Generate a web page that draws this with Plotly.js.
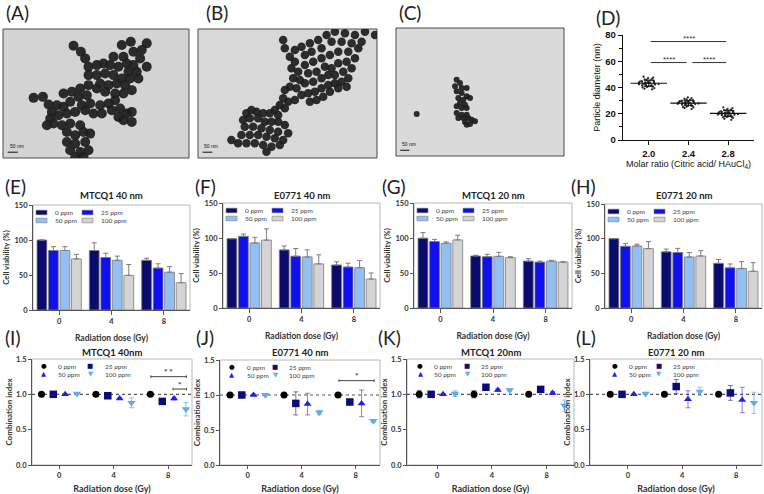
<!DOCTYPE html>
<html><head><meta charset="utf-8">
<script src="https://cdn.plot.ly/plotly-3.0.1.min.js"></script>
<style>html,body{margin:0;padding:0;background:#fff}#chart{width:764px;height:494px}</style>
</head><body><div id="chart"></div>
<script>
// ================= DATA =================
const doseLabels = ['0', '4', '8'];          // bar panels (category)
const doseValues = [0, 4, 8];                // CI panels (numeric)
const concLabels = ['0 ppm', '25 ppm', '50 ppm', '100 ppm'];

// (D) particle diameters (nm) per molar ratio
const molarRatios = [2.0, 2.4, 2.8];
const molarRatioLabels = ['2.0', '2.4', '2.8'];
const diam_2_0 = [38.5,39.1,39.6,40.0,40.3,40.7,41.0,41.3,41.5,41.8,42.0,42.2,42.4,42.6,42.8,43.0,43.1,43.3,43.4,43.6,43.8,43.9,44.1,44.3,44.5,44.7,44.9,45.2,45.5,45.8,46.2,46.6,47.1,47.6,48.2,41.1,42.5,43.2,43.7,44.4];
const diam_2_4 = [23.6,24.4,25.0,25.5,25.9,26.3,26.6,26.9,27.1,27.4,27.6,27.8,28.0,28.1,28.3,28.5,28.6,28.8,29.0,29.2,29.4,29.6,29.9,30.2,30.5,30.9,31.3,31.8,32.4,26.8,27.7,28.2,28.9,29.5,30.0,24.8,28.4,27.3];
const diam_2_8 = [15.4,16.2,16.8,17.3,17.7,18.1,18.4,18.7,19.0,19.2,19.4,19.6,19.8,20.0,20.1,20.3,20.5,20.7,20.9,21.1,21.3,21.5,21.8,22.1,22.4,22.8,23.2,23.7,24.3,24.9,18.9,19.7,20.4,21.0,21.7,17.5,22.6,20.2,19.1,20.8];

// (E) MTCQ1 40 nm  cell viability (%) rows: 0,25,50,100 ppm ; cols: 0,4,8 Gy
const viabE = [[100,85,71],[85,75,60],[85,71,54],[73,49.5,39]];
const viabE_err = [[null,11,3],[5.5,6,6],[5.5,6,8],[6.5,15.5,13]];
// (F) E0771 40 nm
const viabF = [[99,83,61.4],[102.4,74,58.6],[93,73,57.6],[97,63,41.4]];
const viabF_err = [[null,5.6,4.6],[3.3,11,5.4],[8,10,10.4],[16,13,8.6]];
// (G) MTCQ1 20 nm
const viabG = [[99.7,74.3,67],[95,73.3,65.6],[92.5,73.8,67],[97.3,71.9,65.6]];
const viabG_err = [[8,1,3.4],[3,3.4,1.4],[1.9,5.7,1],[6.7,1.4,0.5]];
// (H) E0771 20 nm
const viabH = [[100,81,64.4],[89,80,58],[89.4,73.6,57],[85.6,75,52.9]];
const viabH_err = [[null,4,5.6],[4,6,5.5],[2.6,6.4,9.8],[10.1,7.7,12.5]];

// (I)-(L) combination index rows: 0,25,50,100 ppm ; cols: 0,4,8 Gy
const ciI = [[1.0,1.0,1.0],[1.0,0.98,0.90],[1.0,0.94,0.94],[1.01,0.88,0.79]];
const ciI_err = [[0,0,0],[0.01,0.01,0.01],[0.01,0.01,0.02],[0.01,0.07,0.095]];
const ciJ = [[1.0,1.0,1.0],[1.0,0.88,0.90],[1.0,0.87,0.88],[1.0,0.75,0.63]];
const ciJ_err = [[0,0,0],[0.01,0.165,0.01],[0.01,0.155,0.19],[0.01,0.03,0.02]];
const ciK = [[1.0,1.0,1.0],[1.0,1.10,1.07],[1.0,1.06,1.02],[1.01,1.06,0.84]];
const ciK_err = [[0.05,0.05,0],[0.02,0.02,0.02],[0.01,0.02,0.02],[0.04,0.02,0.08]];
const ciL = [[1.0,1.0,1.0],[1.0,1.11,1.02],[1.0,0.93,0.92],[1.01,1.04,0.88]];
const ciL_err = [[0,0,0],[0.01,0.10,0.105],[0.01,0.12,0.18],[0.01,0.06,0.15]];

// (A)-(C) TEM particle centres (image pixel coordinates)
const temA_x = [220,242,365,392,440,255,340,370,400,425,420,440,265,290,310,330,355,380,400,410,385,265,290,315,340,365,390,415,300,325,350,375,395,370,345,190,215,240,265,290,315,235,260,210,245,270,300,325,345,360,335,380,395,370,395,355,100,128,145,170,190,155,150,175,200,225,255,280,305,140,160,185,210,240,200,225,250,270,200,225,255,210,240,265,225,250];
const temA_y = [62,80,60,50,55,100,95,95,80,75,100,125,125,120,115,120,125,115,120,140,140,150,150,145,150,160,160,160,175,180,175,180,195,205,205,205,200,190,180,190,200,215,210,230,240,235,240,235,225,250,255,265,260,285,290,275,218,215,238,240,245,260,280,270,265,260,255,265,265,300,295,300,295,300,320,330,320,325,350,355,350,375,380,375,395,395];
const temB_x = [265,270,285,300,320,345,370,395,420,450,480,510,540,500,470,440,410,380,350,330,300,290,310,330,355,380,405,430,460,490,480,455,430,410,390,365,340,315,295,285,305,330,355,380,400,420,445,470,460,440,420,400,380,360,340,320,345,365,385,405,430,455,270,265,280,300,255,240,270,250,225,205,185,170,155,145,165,190,210,230,250,270,150,175,200,225,250,280,140,165,190,215,240,265,110,130,155,180,205,230,255,215];
const temB_y = [45,70,95,75,65,55,45,30,20,25,30,20,30,50,55,50,50,70,80,90,110,130,140,120,110,100,90,80,80,70,100,110,115,130,125,140,145,165,160,185,190,175,170,160,150,150,140,130,160,170,175,180,190,200,205,210,230,225,215,200,190,185,195,220,230,225,240,255,250,270,265,265,260,255,265,285,280,280,290,290,290,300,305,305,310,315,320,325,330,330,330,335,340,345,345,355,355,355,360,365,360,380];
const temC_x = [80,200,210,195,215,230,200,215,230,240,205,220,210,225,200,215,230,200,215,230,205,220,235,245,225,240,255,230];
const temC_y = [288,185,195,205,210,210,220,225,235,240,240,245,255,260,265,270,270,285,290,290,300,300,300,305,312,318,310,320];

// ================= STYLE / LAYOUT =================
const W = 764, H = 494;
const px = x => x / W, py = y => 1 - y / H;
const dom = (a, b) => [a / W, b / W];
const domY = (t, b) => [1 - b / H, 1 - t / H];
const FONT = 'Lato, "Open Sans", sans-serif';
const FONT_D = '"Liberation Sans", Arial, sans-serif';
const INK = '#333';
const AXC = '#555';
const barColors = ['#0b0b6e', '#1010ee', '#92c0f2', '#d4d4d4'];
const ciColors = ['#000000', '#0b0b7a', '#1f1ff0', '#5eacf2'];
const ciErrColors = ['rgba(0,0,0,0.6)', 'rgba(11,11,122,0.55)', 'rgba(31,31,240,0.55)', 'rgba(94,172,242,0.7)'];
const ciSymbols = ['circle', 'square', 'triangle-up', 'triangle-down'];
const ciSizes = [7, 7.5, 7, 7.5];
const ciGlyphs = ['\u25CF', '\u25A0', '\u25B2', '\u25BC'];

const traces = [], shapes = [], annotations = [];
const layout = {
  width: W, height: H, margin: {l: 0, r: 0, t: 0, b: 0},
  paper_bgcolor: '#fff', plot_bgcolor: 'rgba(0,0,0,0)',
  showlegend: false, hovermode: false,
  barmode: 'group', bargap: 0.12, bargroupgap: 0.15,
  scattermode: 'group', scattergap: 0.13,
  font: {family: FONT, color: INK}
};

function note(text, x, y, size, opts) {
  annotations.push(Object.assign({text: text, x: px(x), y: py(y), xref: 'paper', yref: 'paper',
    showarrow: false, xanchor: 'left', yanchor: 'middle', font: {family: FONT, size: size, color: '#222'}}, opts || {}));
}

// ---- panel letters ----
[['(A)',4,13],['(B)',204,13],['(C)',397,12],['(D)',594,17],
 ['(E)',3,186],['(F)',193,186],['(G)',380,186],['(H)',569,186],
 ['(I)',3,337],['(J)',194,337],['(K)',376,337],['(L)',574,337]].forEach(l => note(l[0], l[1], l[2], 19));

// ---- TEM images (A-C) ----
const tem = [
  {id: '', xd: [3,189], yd: [29,158], xr: [8,567], yr: [398,12], xs: temA_x, ys: temA_y, size: 10, bg: '#d3d3d3'},
  {id: '2', xd: [198,377], yd: [29,158], xr: [10,546], yr: [399,12], xs: temB_x, ys: temB_y, size: 8.5, bg: '#d8d8d8'},
  {id: '3', xd: [396,564], yd: [28,156], xr: [18,522], yr: [414,30], xs: temC_x, ys: temC_y, size: 6, bg: '#dadada'}
];
tem.forEach(t => {
  layout['xaxis' + t.id] = {domain: dom(t.xd[0], t.xd[1]), range: t.xr, visible: false, anchor: 'y' + t.id};
  layout['yaxis' + t.id] = {domain: domY(t.yd[0], t.yd[1]), range: t.yr, visible: false, anchor: 'x' + t.id};
  shapes.push({type: 'rect', xref: 'x' + t.id + ' domain', yref: 'y' + t.id + ' domain', x0: 0, x1: 1, y0: 0, y1: 1,
    fillcolor: t.bg, line: {color: '#4a4a4a', width: 1}, layer: 'below'});
  traces.push({type: 'scatter', mode: 'markers', x: t.xs, y: t.ys, xaxis: 'x' + t.id, yaxis: 'y' + t.id,
    marker: {size: t.size, color: '#1e1e1e', opacity: 0.93, line: {width: 0}}, hoverinfo: 'skip'});
  shapes.push({type: 'line', xref: 'x' + t.id + ' domain', yref: 'y' + t.id + ' domain', x0: 0.025, x1: 0.08, y0: 0.045, y1: 0.045,
    line: {color: '#111', width: 1}});
  annotations.push({text: '50 nm', xref: 'x' + t.id + ' domain', yref: 'y' + t.id + ' domain', x: 0.025, y: 0.055,
    xanchor: 'left', yanchor: 'bottom', showarrow: false, font: {size: 5, color: '#111', family: FONT_D}});
});

// ---- (D) particle diameter ----
const diamGroups = [diam_2_0, diam_2_4, diam_2_8];
layout.xaxis4 = {domain: dom(623, 754), range: [1.74, 3.06], anchor: 'y4', tickvals: molarRatios, ticktext: molarRatioLabels,
  showline: true, linecolor: '#111', linewidth: 1.3, ticks: 'outside', ticklen: 4, tickcolor: '#111', showgrid: false, zeroline: false,
  tickfont: {family: FONT_D, size: 9.5, color: '#111', weight: 'bold'},
  title: {text: 'Molar ratio (Citric acid/ HAuCl<sub>4</sub>)', font: {family: FONT_D, size: 9, color: '#111'}, standoff: 3}};
layout.yaxis4 = {domain: domY(35, 140), range: [0, 80], anchor: 'x4', tickvals: [0, 20, 40, 60, 80],
  showline: true, linecolor: '#111', linewidth: 1.3, ticks: 'outside', ticklen: 4, tickcolor: '#111', showgrid: false, zeroline: false,
  minor: {dtick: 10, ticks: 'outside', ticklen: 2.5, tickcolor: '#111', showgrid: false},
  tickfont: {family: FONT_D, size: 9.5, color: '#111', weight: 'bold'},
  title: {text: 'Particle diameter (nm)', font: {family: FONT_D, size: 9, color: '#111'}, standoff: 3}};
diamGroups.forEach((g, i) => {
  traces.push({type: 'box', y: g, x0: molarRatios[i], xaxis: 'x4', yaxis: 'y4', boxpoints: 'all', jitter: 1, pointpos: 0,
    width: 0.24, line: {width: 0, color: 'rgba(0,0,0,0)'}, fillcolor: 'rgba(0,0,0,0)',
    marker: {size: 2.3, color: '#2a2a2a'}, hoverinfo: 'skip'});
});
const mean = a => a.reduce((s, v) => s + v, 0) / a.length;
const sd = a => { const m = mean(a); return Math.sqrt(a.reduce((s, v) => s + (v - m) * (v - m), 0) / (a.length - 1)); };
traces.push({type: 'scatter', mode: 'markers', x: molarRatios, y: diamGroups.map(mean), xaxis: 'x4', yaxis: 'y4',
  marker: {symbol: 'line-ew', size: 26, line: {width: 1.2, color: '#111'}},
  error_y: {type: 'data', array: diamGroups.map(sd), color: '#111', thickness: 1, width: 5}, hoverinfo: 'skip'});
[[2.02, 2.78, 75], [2.02, 2.38, 59], [2.44, 2.78, 59]].forEach(b =>
  shapes.push({type: 'line', xref: 'x4', yref: 'y4', x0: b[0], x1: b[1], y0: b[2], y1: b[2], line: {color: '#333', width: 1}}));
[[2.40, 77.5], [2.20, 61.5], [2.61, 61.5]].forEach(s =>
  annotations.push({text: '****', xref: 'x4', yref: 'y4', x: s[0], y: s[1], showarrow: false, yanchor: 'middle',
    font: {family: FONT_D, size: 8, color: '#333'}}));

// ---- helpers for styled axes ----
function frame(id) {
  shapes.push({type: 'rect', xref: 'x' + id + ' domain', yref: 'y' + id + ' domain', x0: 0, x1: 1, y0: 0, y1: 1,
    line: {color: '#b8b8b8', width: 1}, layer: 'below'});
}
const tickFont = {family: FONT, size: 7.5, color: '#333', weight: 'bold'};
function baseAxis(extra) {
  return Object.assign({showline: true, linecolor: AXC, linewidth: 1, ticks: 'outside', ticklen: 3, tickcolor: AXC,
    showgrid: false, zeroline: false, tickfont: tickFont}, extra);
}

// ---- (E)-(H) bar panels ----
const barPanels = [
  {id: 5, title: 'MTCQ1 40 nm', xd: [33,190], yd: [205,310], m: viabE, e: viabE_err},
  {id: 6, title: 'E0771 40 nm', xd: [223,380], yd: [203,308], m: viabF, e: viabF_err},
  {id: 7, title: 'MTCQ1 20 nm', xd: [414,572], yd: [203,308], m: viabG, e: viabG_err},
  {id: 8, title: 'E0771 20 nm', xd: [605,762], yd: [204,308], m: viabH, e: viabH_err}
];
barPanels.forEach(p => {
  layout['xaxis' + p.id] = baseAxis({domain: dom(p.xd[0], p.xd[1]), anchor: 'y' + p.id, type: 'category', ticklen: 4,
    title: {text: 'Radiation dose (Gy)', font: {family: FONT, size: 8.5, color: '#333', weight: 'bold'}, standoff: 10}});
  layout['yaxis' + p.id] = baseAxis({domain: domY(p.yd[0], p.yd[1]), anchor: 'x' + p.id, range: [0, 150], tickvals: [0, 50, 100, 150],
    title: {text: 'Cell viability (%)', font: {family: FONT, size: 7.8, color: '#333', weight: 'bold'}, standoff: 3}});
  frame(p.id);
  p.m.forEach((vals, i) => {
    traces.push({type: 'bar', name: concLabels[i], x: doseLabels, y: vals, xaxis: 'x' + p.id, yaxis: 'y' + p.id,
      marker: {color: barColors[i], line: {color: '#7c7c7c', width: 0.8}},
      error_y: {type: 'data', symmetric: false, array: p.e[i], arrayminus: p.e[i].map(() => 0),
        color: '#7c7c7c', thickness: 1, width: 2.5}, hoverinfo: 'skip'});
  });
  note(p.title, (p.xd[0] + p.xd[1]) / 2, 195, 9.5, {xanchor: 'center', font: {family: FONT, size: 9.5, color: '#222', weight: 'bold'}});
  // legend (2 x 2)
  const L = p.xd[0], T = p.yd[0];
  const rows = [T + 7.5, T + 15.5];
  const cols = [[L + 3, L + 14, L + 20], [L + 49, L + 60, L + 66]];
  concLabels.forEach((c, i) => {
    const r = rows[Math.floor(i / 2)], col = cols[i % 2];
    shapes.push({type: 'rect', xref: 'paper', yref: 'paper', x0: px(col[0]), x1: px(col[1]), y0: py(r + 2.3), y1: py(r - 2.3),
      fillcolor: barColors[i], line: {color: '#7c7c7c', width: 0.6}});
    note(c, col[2], r, 6.5, {font: {family: FONT, size: 6.5, color: '#444'}});
  });
});

// ---- (I)-(L) combination index panels ----
const ciPanels = [
  {id: 9, title: 'MTCQ1 40nm', xd: [32,192], yd: [359,465], xr: [-2.0, 9.75], m: ciI, e: ciI_err, lg: [11.6, 24.3, 58.3, 71]},
  {id: 10, title: 'E0771 40 nm', xd: [220,380], yd: [360,465], xr: [-2.05, 9.8], m: ciJ, e: ciJ_err, lg: [11.7, 25, 55, 66.7]},
  {id: 11, title: 'MTCQ1 20nm', xd: [407,574], yd: [359,465], xr: [-2.2, 10.0], m: ciK, e: ciK_err, lg: [13, 25, 60, 72]},
  {id: 12, title: 'E0771 20 nm', xd: [590,762], yd: [359,465], xr: [-2.8, 9.9], m: ciL, e: ciL_err, lg: [24.7, 37, 68.7, 81.3]}
];
ciPanels.forEach(p => {
  layout['xaxis' + p.id] = baseAxis({domain: dom(p.xd[0], p.xd[1]), anchor: 'y' + p.id, range: p.xr, tickvals: doseValues,
    title: {text: 'Radiation dose (Gy)', font: {family: FONT, size: 9, color: '#333', weight: 'bold'}, standoff: 6}});
  layout['yaxis' + p.id] = baseAxis({domain: domY(p.yd[0], p.yd[1]), anchor: 'x' + p.id, range: [0, 1.5],
    tickvals: [0, 0.5, 1.0, 1.5], tickformat: '.1f',
    title: {text: 'Combination index', font: {family: FONT, size: 8, color: '#333', weight: 'bold'}, standoff: 2}});
  frame(p.id);
  shapes.push({type: 'line', xref: 'x' + p.id + ' domain', yref: 'y' + p.id, x0: 0, x1: 1, y0: 1, y1: 1,
    line: {color: '#555', width: 1.1, dash: 'dot'}, layer: 'below'});
  p.m.forEach((vals, i) => {
    traces.push({type: 'scatter', mode: 'markers', name: concLabels[i], x: doseValues, y: vals,
      xaxis: 'x' + p.id, yaxis: 'y' + p.id,
      marker: {symbol: ciSymbols[i], size: ciSizes[i], color: ciColors[i]},
      error_y: {type: 'data', array: p.e[i], color: ciErrColors[i], thickness: 1, width: 2.5}, hoverinfo: 'skip'});
  });
  note(p.title, (p.xd[0] + p.xd[1]) / 2, 352, 9.5, {xanchor: 'center', font: {family: FONT, size: 9.5, color: '#222', weight: 'bold'}});
  const L = p.xd[0], T = p.yd[0];
  const rows = [T + 7, T + 15.3];
  concLabels.forEach((c, i) => {
    const r = rows[Math.floor(i / 2)], k = i % 2;
    note(ciGlyphs[i], L + p.lg[2 * k], r, 6.5, {xanchor: 'center',
      font: {family: '"DejaVu Sans", sans-serif', size: 6.5, color: ciColors[i]}});
    note(c, L + p.lg[2 * k + 1], r, 6.5, {font: {family: FONT, size: 6.5, color: '#444'}});
  });
});

// significance brackets (I) and (J)
const brackets = [
  {ax: 9, x0: 6.73, x1: 9.34, y: 1.25, tx: 8.05, ty: 1.31, t: '* *'},
  {ax: 9, x0: 8.36, x1: 9.34, y: 1.075, tx: 8.85, ty: 1.13, t: '*'},
  {ax: 10, x0: 6.76, x1: 9.36, y: 1.205, tx: 8.05, ty: 1.27, t: '*'}
];
brackets.forEach(b => {
  const xr = 'x' + b.ax, yr = 'y' + b.ax;
  shapes.push({type: 'line', xref: xr, yref: yr, x0: b.x0, x1: b.x1, y0: b.y, y1: b.y, line: {color: '#444', width: 1}});
  [b.x0, b.x1].forEach(x => shapes.push({type: 'line', xref: xr, yref: yr, x0: x, x1: x, y0: b.y - 0.018, y1: b.y + 0.018,
    line: {color: '#444', width: 1}}));
  annotations.push({text: b.t, xref: xr, yref: yr, x: b.tx, y: b.ty, showarrow: false, yanchor: 'middle',
    font: {family: FONT, size: 8, color: '#333', weight: 'bold'}});
});

layout.shapes = shapes;
layout.annotations = annotations;
Plotly.newPlot('chart', traces, layout, {staticPlot: true, displayModeBar: false});
</script>
</body></html>
